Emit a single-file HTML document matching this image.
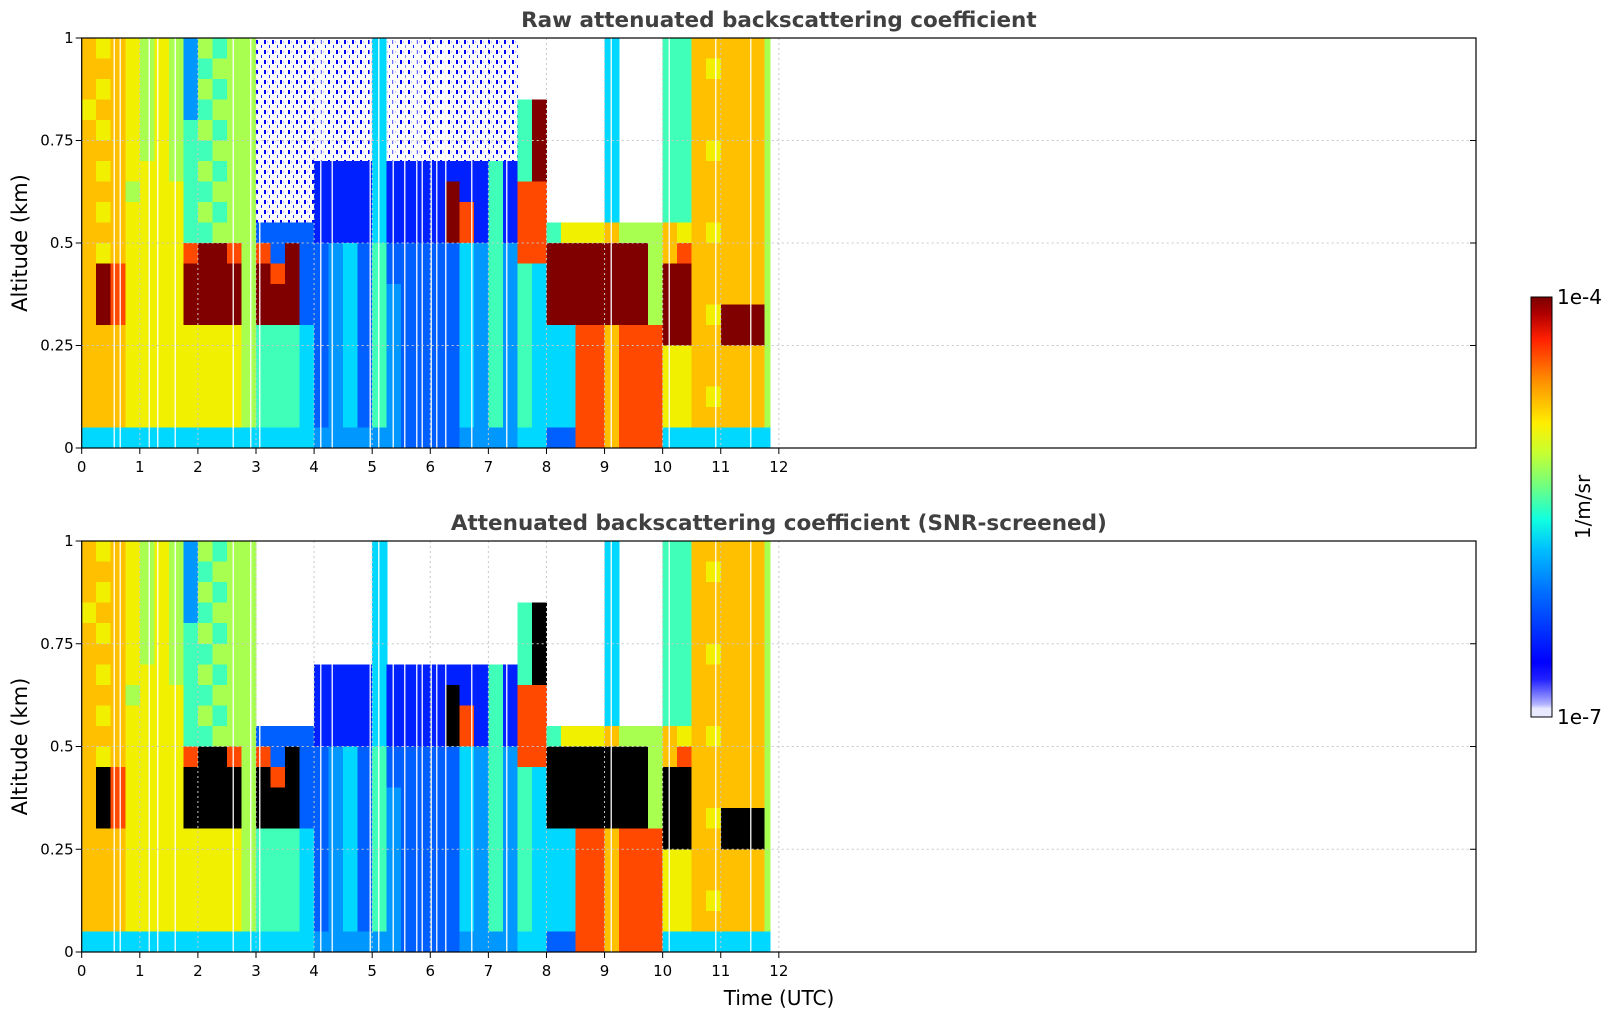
<!DOCTYPE html>
<html><head><meta charset="utf-8">
<style>
html,body{margin:0;padding:0;background:#fff;}
svg{display:block;font-family:"DejaVu Sans","Liberation Sans",sans-serif;}
</style></head>
<body>
<svg id="chart" width="1621" height="1020" viewBox="0 0 1621 1020" xmlns="http://www.w3.org/2000/svg">
<defs>
<pattern id="speckle" width="8" height="10" patternUnits="userSpaceOnUse">
<rect width="8" height="10" fill="#ffffff"/>
<rect x="0" y="0" width="2" height="4" fill="#0000ff"/>
<rect x="5" y="5" width="1" height="3" fill="#1030ff"/>
<rect x="3" y="1" width="1" height="2" fill="#c8c8ff"/>
</pattern>
<linearGradient id="cbgrad" x1="0" y1="1" x2="0" y2="0">
<stop offset="0" stop-color="#e8e8ff"/><stop offset="0.02" stop-color="#e8e8ff"/>
<stop offset="0.03" stop-color="#b4b4ff"/><stop offset="0.05" stop-color="#8080ff"/>
<stop offset="0.07" stop-color="#5050ff"/><stop offset="0.09" stop-color="#2020ff"/>
<stop offset="0.13" stop-color="#0000ff"/><stop offset="0.3" stop-color="#0070ff"/>
<stop offset="0.4" stop-color="#00c0ff"/><stop offset="0.47" stop-color="#10ffe0"/>
<stop offset="0.55" stop-color="#70ff80"/><stop offset="0.63" stop-color="#c8ff30"/>
<stop offset="0.7" stop-color="#ffee00"/><stop offset="0.8" stop-color="#ff9000"/>
<stop offset="0.9" stop-color="#ff2000"/><stop offset="0.96" stop-color="#b00000"/>
<stop offset="1" stop-color="#7a0000"/>
</linearGradient>
</defs>
<g id="plots"></g>
<g>
<rect x="1531" y="297" width="21" height="420" fill="url(#cbgrad)" stroke="#000" stroke-width="1"/>
<text x="1557" y="304" font-size="20">1e-4</text>
<text x="1557" y="724" font-size="20">1e-7</text>
<text transform="translate(1590,507) rotate(-90)" text-anchor="middle" font-size="20">1/m/sr</text>
</g>
<text x="779" y="1005" text-anchor="middle" font-size="20">Time (UTC)</text>
</svg>
<script>
// Each profile is one 0.25 h time column, 20 altitude bins from 1.0 km (top) to 0 km (bottom).
// Levels: 0..9 jet colour levels (blue -> dark red), '.' = no data, 's' = noisy speckle
const timeStep = 0.25;
const dataEnd = 11.85;
const altitudeBins = 20;
const xTicks = [0,1,2,3,4,5,6,7,8,9,10,11,12];
const yTicks = [0,0.25,0.5,0.75,1];
const yTickLabels = ["0","0.25","0.5","0.75","1"];
const gapTimes = [0.55,0.65,1.15,1.3,1.6,2.6,2.9,3.05,4.1,4.3,4.95,5.1,5.35,5.55,5.75,5.85,6.0,6.1,6.25,6.7,7.3,9.1,10.1,10.9,11.5];
const profiles = [
"77767777777777777773","67676767676999777773","77777777777888777773","66666665666666666663",
"55555566666666666663","66666666666666666663","55555556666666666663","22224444448999666663",
"54545454549999666663","45454545459999666663","55555555558999666663","55555555555555555553",
"sssssssss18999444443","sssssssss11899444443","sssssssss19999444443","sssssssss11111333333",
"ssssss00001111111112","ssssss00002222222222","ssssss00003333333332","ssssss00001111111112",
"33333333334444444442","ssssss00001122222222","ssssss00001111111111","ssssss00001111111111",
"ssssss00001111111111","ssssss09991111111111","ssssss00883333333332","ssssss00002222222222",
"ssssss44444444444442","ssssss00002222222222","...44448888444444443","...99998888333333333",
".........49999333331",".........69999333331",".........69999888888",".........69999888888",
"33333333379999777777",".........59999888888",".........59999888888",".........55555888888",
"44444444477999966663","44444444468999966663","77777777777777777773","76777677767776777673",
"77777777777779977773","77777777777779977773","77777777777779977773","55555555555555555553"
];
const titles = ["Raw attenuated backscattering coefficient","Attenuated backscattering coefficient (SNR-screened)"];

const levelColors = ["#0020ff","#0060ff","#0098ff","#00d8ff","#40ffb8","#a8ff50","#f0f000","#ffc000","#ff4800","#800000"];
const NS = "http://www.w3.org/2000/svg";
const panels = [{top:38,bottom:448},{top:541,bottom:952}];
const left = 81.7, right = 1476, xMax = 24;
const xScale = t => left + (t / xMax) * (right - left);
function mk(tag, attrs, parent){const e=document.createElementNS(NS,tag);for(const k in attrs)e.setAttribute(k,attrs[k]);parent.appendChild(e);return e;}
const root = document.getElementById('plots');

panels.forEach((p, pi) => {
  const yScale = v => p.bottom - v * (p.bottom - p.top);
  const g = mk('g', {}, root);
  
  
  const hm = mk('g', {'shape-rendering':'crispEdges'}, g);
  
  
  profiles.forEach((col, ci) => {
    const t0 = ci * timeStep, t1 = Math.min(dataEnd, t0 + timeStep);
    if (t1 <= t0) return;
    for (let r = 0; r < altitudeBins; r++) {
      let ch = col[r];
      if (pi === 1) { if (ch === 's') ch = '.'; else if (ch === '9') ch = 'k'; }
      if (ch === '.') continue;
      const fill = ch === 's' ? 'url(#speckle)' : ch === 'k' ? '#000000' : levelColors[+ch];
      const aTop = 1 - r / altitudeBins, aBot = 1 - (r + 1) / altitudeBins;
      const x0 = xScale(t0), x1 = xScale(t1);
      const rc = mk('rect', {x:x0.toFixed(1), y:yScale(aTop).toFixed(1), width:(x1-x0+0.6).toFixed(1), height:(yScale(aBot)-yScale(aTop)+0.6).toFixed(1), fill:fill}, hm);
      
      
    }
  });
  gapTimes.forEach(t => {
    const l = mk('rect', {x:xScale(t), y:p.top, width:1.5, height:p.bottom-p.top, fill:'#ffffff', opacity:0.85}, hm);
    
    
  });
  xTicks.forEach(t => {
    const l = mk('line', {x1:xScale(t), x2:xScale(t), y1:p.top, y2:p.bottom, stroke:'#c8c8c8', 'stroke-width':1, 'stroke-dasharray':'2,3'}, g);
    
    
  });
  yTicks.slice(1,4).forEach(v => {
    const l = mk('line', {x1:left, x2:right, y1:yScale(v), y2:yScale(v), stroke:'#c8c8c8', 'stroke-width':1, 'stroke-dasharray':'2,3'}, g);
    
    
  });
  const fr = mk('rect', {x:left, y:p.top, width:right-left, height:p.bottom-p.top, fill:'none', stroke:'#000', 'stroke-width':1.2}, g);
  
  
  xTicks.forEach(t => {
    mk('line', {x1:xScale(t), x2:xScale(t), y1:p.bottom, y2:p.bottom+6, stroke:'#000'}, g);
    const tx = mk('text', {x:xScale(t), y:p.bottom+24, 'text-anchor':'middle', 'font-size':15}, g);
    tx.textContent = String(t);
    
    
  });
  yTicks.forEach((v, i) => {
    mk('line', {x1:left-6, x2:left, y1:yScale(v), y2:yScale(v), stroke:'#000'}, g);
    mk('line', {x1:right-6, x2:right, y1:yScale(v), y2:yScale(v), stroke:'#000'}, g);
    const tx = mk('text', {x:left-8, y:yScale(v)+5, 'text-anchor':'end', 'font-size':15}, g);
    tx.textContent = yTickLabels[i];
    
    
  });
  const yt = mk('text', {transform:`translate(27,${(p.top+p.bottom)/2}) rotate(-90)`, 'text-anchor':'middle', 'font-size':21}, g);
  yt.textContent = 'Altitude (km)';
  
  
  const tt = mk('text', {x:(left+right)/2, y:p.top-11, 'text-anchor':'middle', 'font-size':21.5, 'font-weight':'bold', fill:'#404040'}, g);
  tt.textContent = titles[pi];
  
  
});
</script>
</body></html>
